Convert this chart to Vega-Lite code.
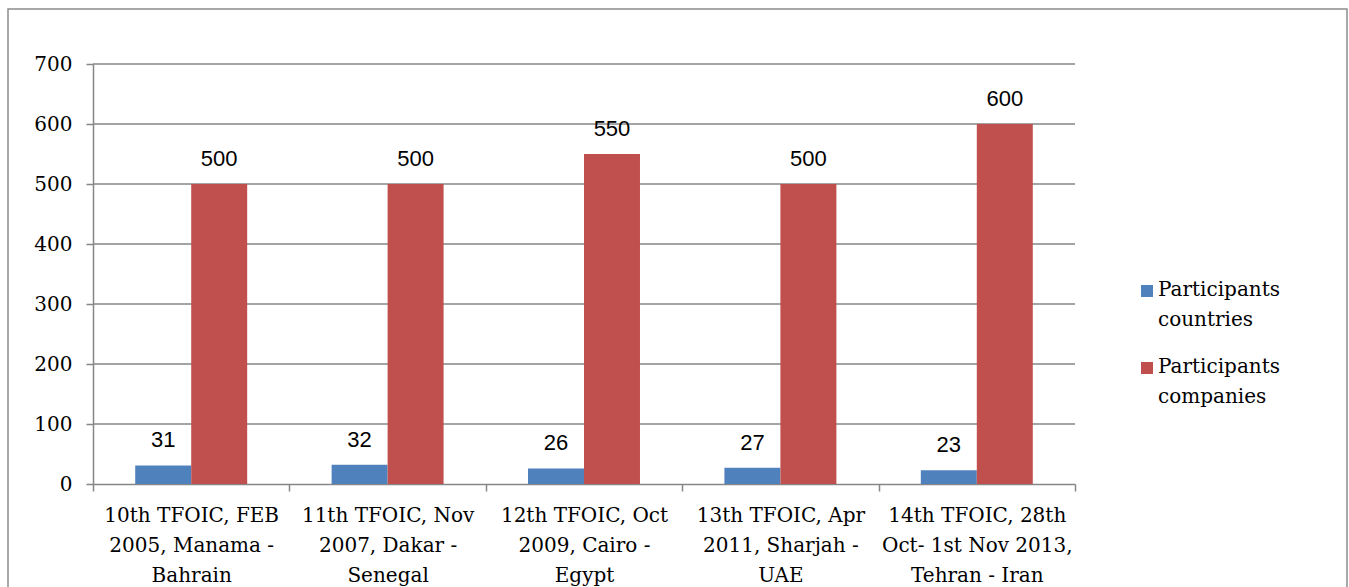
{
  "$schema": "https://vega.github.io/schema/vega-lite/v6.json",
  "autosize": {"type": "none"},
  "width": 1339,
  "height": 600,
  "padding": {"left": 8, "top": 9, "right": 2, "bottom": 0},
  "background": "white",
  "config": {
    "view": {"stroke": "#8c8c8c", "strokeWidth": 1.5},
    "axis": {"labelColor": "#000000", "domainColor": "#868686", "tickColor": "#868686", "domainWidth": 1.5, "tickWidth": 1.5}
  },
  "datasets": {
    "bars": [
      {"event": "10th TFOIC, FEB|2005, Manama -|Bahrain", "series": "Participants|countries", "value": 31},
      {"event": "10th TFOIC, FEB|2005, Manama -|Bahrain", "series": "Participants|companies", "value": 500},
      {"event": "11th TFOIC, Nov|2007, Dakar -|Senegal", "series": "Participants|countries", "value": 32},
      {"event": "11th TFOIC, Nov|2007, Dakar -|Senegal", "series": "Participants|companies", "value": 500},
      {"event": "12th TFOIC, Oct|2009, Cairo -|Egypt", "series": "Participants|countries", "value": 26},
      {"event": "12th TFOIC, Oct|2009, Cairo -|Egypt", "series": "Participants|companies", "value": 550},
      {"event": "13th TFOIC, Apr|2011, Sharjah -|UAE", "series": "Participants|countries", "value": 27},
      {"event": "13th TFOIC, Apr|2011, Sharjah -|UAE", "series": "Participants|companies", "value": 500},
      {"event": "14th TFOIC, 28th|Oct- 1st Nov 2013,|Tehran - Iran", "series": "Participants|countries", "value": 23},
      {"event": "14th TFOIC, 28th|Oct- 1st Nov 2013,|Tehran - Iran", "series": "Participants|companies", "value": 600}
    ],
    "grid": [{"g": 100}, {"g": 200}, {"g": 300}, {"g": 400}, {"g": 500}, {"g": 600}, {"g": 700}]
  },
  "layer": [
    {
      "data": {"name": "grid"},
      "mark": {"type": "tick", "color": "#868686", "size": 982, "thickness": 1.5, "opacity": 1},
      "encoding": {
        "x": {"datum": "12th TFOIC, Oct|2009, Cairo -|Egypt", "type": "nominal"},
        "y": {"field": "g", "type": "quantitative"}
      }
    },
    {
      "data": {"name": "bars"},
      "mark": {"type": "bar"},
      "encoding": {
        "x": {
          "field": "event", "type": "nominal", "sort": null,
          "scale": {
            "domain": ["10th TFOIC, FEB|2005, Manama -|Bahrain", "11th TFOIC, Nov|2007, Dakar -|Senegal", "12th TFOIC, Oct|2009, Cairo -|Egypt", "13th TFOIC, Apr|2011, Sharjah -|UAE", "14th TFOIC, 28th|Oct- 1st Nov 2013,|Tehran - Iran"],
            "range": [85, 1067], "paddingInner": 0, "paddingOuter": 0
          },
          "axis": {
            "title": null, "orient": "bottom", "offset": -125,
            "labelAngle": 0, "labelAlign": "center", "labelFont": "DejaVu Serif", "labelFontSize": 20,
            "labelExpr": "split(datum.label, '|')", "labelLineHeight": 30,
            "labelPadding": 24, "tickSize": 7, "tickBand": "extent", "labelLimit": 400
          }
        },
        "xOffset": {
          "field": "series", "type": "nominal",
          "scale": {"domain": ["Participants|countries", "Participants|companies"], "paddingInner": 0, "paddingOuter": 0.754}
        },
        "y": {
          "field": "value", "type": "quantitative",
          "scale": {"domain": [0, 700], "range": [475, 55], "nice": false},
          "axis": {
            "title": null, "offset": -85, "values": [0, 100, 200, 300, 400, 500, 600, 700],
            "grid": false, "labelFont": "DejaVu Serif", "labelFontSize": 20,
            "tickSize": 7, "labelPadding": 14
          }
        },
        "color": {
          "field": "series", "type": "nominal",
          "scale": {"domain": ["Participants|countries", "Participants|companies"], "range": ["#4F81BD", "#C0504D"]},
          "legend": {
            "title": null, "orient": "none", "legendX": 1129, "legendY": 272,
            "symbolType": "square", "symbolSize": 144, "symbolStrokeWidth": 0,
            "labelFont": "DejaVu Serif", "labelFontSize": 20, "labelColor": "#000000",
            "labelExpr": "split(datum.label, '|')", "labelBaseline": "top",
            "labelLimit": 300, "rowPadding": 27, "labelOffset": 1,
            "encode": {"labels": {"update": {"lineHeight": {"value": 30}, "dy": {"value": -11}}}}
          }
        }
      }
    },
    {
      "data": {"name": "bars"},
      "mark": {"type": "text", "font": "Liberation Sans", "fontSize": 22, "baseline": "alphabetic", "dy": -18, "color": "#000000"},
      "encoding": {
        "x": {"field": "event", "type": "nominal", "sort": null},
        "xOffset": {"field": "series", "type": "nominal"},
        "y": {"field": "value", "type": "quantitative"},
        "text": {"field": "value", "type": "quantitative"}
      }
    }
  ]
}
